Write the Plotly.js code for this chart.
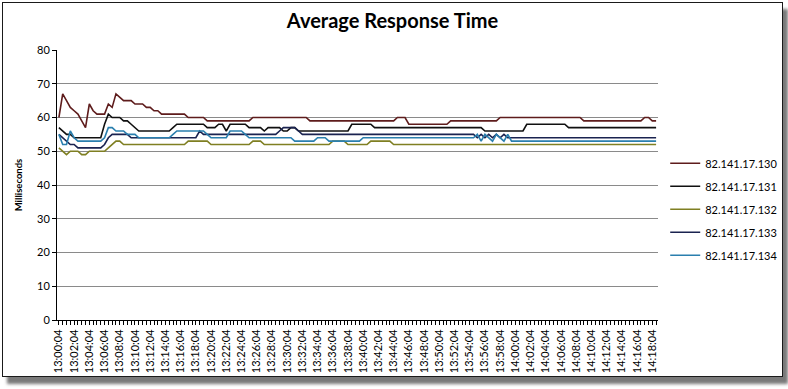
<!DOCTYPE html>
<html>
<head>
<meta charset="utf-8">
<script src="https://cdn.plot.ly/plotly-3.0.1.min.js"></script>
<style>
  html, body { margin: 0; padding: 0; background: #ffffff; width: 788px; height: 389px; overflow: hidden; }
  #frame { position: absolute; left: 2px; top: 2px; width: 779px; height: 373px; border: 1px solid #1a1a1a;
           box-shadow: 5px 7px 3px #7a7a7a; background: #ffffff; }
  #chart { width: 779px; height: 373px; }
</style>
</head>
<body>
<div id="frame"><div id="chart"></div></div>
<script>
// Sample times (every 30 s)
const times = [
 "13:00:04","13:00:34","13:01:04","13:01:34","13:02:04","13:02:34","13:03:04","13:03:34","13:04:04","13:04:34","13:05:04","13:05:34","13:06:04","13:06:34","13:07:04","13:07:34","13:08:04","13:08:34","13:09:04","13:09:34",
 "13:10:04","13:10:34","13:11:04","13:11:34","13:12:04","13:12:34","13:13:04","13:13:34","13:14:04","13:14:34","13:15:04","13:15:34","13:16:04","13:16:34","13:17:04","13:17:34","13:18:04","13:18:34","13:19:04","13:19:34",
 "13:20:04","13:20:34","13:21:04","13:21:34","13:22:04","13:22:34","13:23:04","13:23:34","13:24:04","13:24:34","13:25:04","13:25:34","13:26:04","13:26:34","13:27:04","13:27:34","13:28:04","13:28:34","13:29:04","13:29:34",
 "13:30:04","13:30:34","13:31:04","13:31:34","13:32:04","13:32:34","13:33:04","13:33:34","13:34:04","13:34:34","13:35:04","13:35:34","13:36:04","13:36:34","13:37:04","13:37:34","13:38:04","13:38:34","13:39:04","13:39:34",
 "13:40:04","13:40:34","13:41:04","13:41:34","13:42:04","13:42:34","13:43:04","13:43:34","13:44:04","13:44:34","13:45:04","13:45:34","13:46:04","13:46:34","13:47:04","13:47:34","13:48:04","13:48:34","13:49:04","13:49:34",
 "13:50:04","13:50:34","13:51:04","13:51:34","13:52:04","13:52:34","13:53:04","13:53:34","13:54:04","13:54:34","13:55:04","13:55:34","13:56:04","13:56:34","13:57:04","13:57:34","13:58:04","13:58:34","13:59:04","13:59:34",
 "14:00:04","14:00:34","14:01:04","14:01:34","14:02:04","14:02:34","14:03:04","14:03:34","14:04:04","14:04:34","14:05:04","14:05:34","14:06:04","14:06:34","14:07:04","14:07:34","14:08:04","14:08:34","14:09:04","14:09:34",
 "14:10:04","14:10:34","14:11:04","14:11:34","14:12:04","14:12:34","14:13:04","14:13:34","14:14:04","14:14:34","14:15:04","14:15:34","14:16:04","14:16:34","14:17:04","14:17:34","14:18:04","14:18:34"
];

// Labelled ticks (every 2 minutes)
const tickLabels = [
 "13:00:04","13:02:04","13:04:04","13:06:04","13:08:04","13:10:04","13:12:04","13:14:04","13:16:04","13:18:04",
 "13:20:04","13:22:04","13:24:04","13:26:04","13:28:04","13:30:04","13:32:04","13:34:04","13:36:04","13:38:04",
 "13:40:04","13:42:04","13:44:04","13:46:04","13:48:04","13:50:04","13:52:04","13:54:04","13:56:04","13:58:04",
 "14:00:04","14:02:04","14:04:04","14:06:04","14:08:04","14:10:04","14:12:04","14:14:04","14:16:04","14:18:04"
];

const seriesNames = ["82.141.17.130","82.141.17.131","82.141.17.132","82.141.17.133","82.141.17.134"];

const ms130 = [
 60,67,65,63,62,61,59,57,64,62,61,61,61,64,63,67,66,65,65,65,
 64,64,64,63,63,62,62,61,61,61,61,61,61,61,60,60,60,60,60,59,
 59,59,59,59,59,59,59,59,59,59,59,60,60,60,60,60,60,60,60,60,
 60,60,60,60,60,60,59,59,59,59,59,59,59,59,59,59,59,59,59,59,
 59,59,59,59,59,59,59,59,59,60,60,60,58,58,58,58,58,58,58,58,
 58,58,58,59,59,59,59,59,59,59,59,59,59,59,59,59,60,60,60,60,
 60,60,60,60,60,60,60,60,60,60,60,60,60,60,60,60,60,60,59,59,
 59,59,59,59,59,59,59,59,59,59,59,59,59,59,60,60,59,59
];
const ms131 = [
 57,56,55,55,54,54,54,54,54,54,54,54,58,61,60,60,60,59,59,58,
 57,56,56,56,56,56,56,56,56,56,57,58,58,58,58,58,58,58,58,57,
 57,57,58,58,56,58,58,58,58,58,57,57,57,57,56,57,57,57,57,56,
 56,57,57,56,56,56,56,56,56,56,56,56,56,56,56,56,56,58,58,58,
 58,58,58,57,57,57,57,57,57,57,57,57,57,57,57,57,57,57,57,57,
 57,57,57,57,57,57,57,57,57,57,57,57,56,56,56,56,56,56,56,56,
 56,56,56,58,58,58,58,58,58,58,58,58,58,58,57,57,57,57,57,57,
 57,57,57,57,57,57,57,57,57,57,57,57,57,57,57,57,57,57
];
const ms132 = [
 51,50,49,50,50,50,49,49,50,50,50,50,50,51,52,53,53,52,52,52,
 52,52,52,52,52,52,52,52,52,52,52,52,52,52,53,53,53,53,53,53,
 52,52,52,52,52,52,52,52,52,52,52,53,53,53,52,52,52,52,52,52,
 52,52,52,52,52,52,52,52,52,52,52,52,53,53,53,53,52,52,52,52,
 52,52,53,53,53,53,53,53,52,52,52,52,52,52,52,52,52,52,52,52,
 52,52,52,52,52,52,52,52,52,52,52,52,52,52,52,52,52,52,52,52,
 52,52,52,52,52,52,52,52,52,52,52,52,52,52,52,52,52,52,52,52,
 52,52,52,52,52,52,52,52,52,52,52,52,52,52,52,52,52,52
];
const ms133 = [
 55,54,53,52,52,51,51,51,51,51,51,51,52,54,55,55,55,55,55,54,
 54,54,54,54,54,54,54,54,54,54,54,54,54,54,54,54,54,56,55,55,
 55,55,55,55,55,55,55,55,55,55,55,55,55,55,55,55,55,55,56,57,
 57,57,57,56,55,55,55,55,55,55,55,55,55,55,55,55,55,55,55,55,
 55,55,55,55,55,55,55,55,55,55,55,55,55,55,55,55,55,55,55,55,
 55,55,55,55,55,55,55,55,55,55,54,55,54,55,54,55,54,55,54,54,
 54,54,54,54,54,54,54,54,54,54,54,54,54,54,54,54,54,54,54,54,
 54,54,54,54,54,54,54,54,54,54,54,54,54,54,54,54,54,54
];
const ms134 = [
 55,52,52,56,54,53,53,53,53,53,53,53,54,57,57,56,56,56,55,55,
 55,54,54,54,54,54,54,54,54,54,55,56,56,56,56,56,56,56,56,55,
 54,54,54,54,54,56,56,56,56,55,54,54,54,54,54,54,54,54,54,54,
 54,54,53,53,53,53,53,53,54,54,54,53,53,53,53,53,53,53,53,53,
 54,54,54,54,54,54,54,54,54,54,54,54,54,54,54,54,54,54,54,54,
 54,54,54,54,54,54,54,54,54,54,55,53,55,54,53,55,54,53,55,53,
 53,53,53,53,53,53,53,53,53,53,53,53,53,53,53,53,53,53,53,53,
 53,53,53,53,53,53,53,53,53,53,53,53,53,53,53,53,53,53
];

const seriesValues = [ms130, ms131, ms132, ms133, ms134];
const seriesColors = ["#5e1c1c", "#101010", "#7f7f22", "#1a2350", "#2a7fae"];

const FONT = "Lato, 'Liberation Sans', Arial, sans-serif";

const traces = seriesNames.map((name, i) => ({
  type: "scatter",
  mode: "lines",
  name: name,
  x: times,
  y: seriesValues[i],
  legendgroup: "g" + i,
  line: { color: seriesColors[i], width: 1.6 },
  hoverinfo: "x+y+name"
}));

const layout = {
  width: 779,
  height: 373,
  margin: { l: 54, r: 124, t: 47, b: 56, autoexpand: false },
  paper_bgcolor: "#ffffff",
  plot_bgcolor: "#ffffff",
  font: { family: FONT, size: 11, color: "#000000" },
  title: {
    text: "<b>Average Response Time</b>",
    font: { family: FONT, size: 20, color: "#000000" },
    x: 0.5, xanchor: "center",
    y: 0.953, yanchor: "middle", yref: "container"
  },
  xaxis: {
    type: "category",
    categoryorder: "array",
    categoryarray: times,
    range: [-0.5, times.length - 0.5],
    tickmode: "array",
    tickvals: times,
    ticktext: times.map(t => tickLabels.includes(t) ? t : ""),
    tickangle: -90,
    ticks: "outside",
    ticklen: 4,
    tickwidth: 1,
    tickcolor: "#000000",
    showline: true,
    linecolor: "#000000",
    linewidth: 1,
    showgrid: false,
    zeroline: false,
    tickfont: { family: FONT, size: 11, color: "#000000" },
    fixedrange: true
  },
  yaxis: {
    range: [0, 80],
    tickmode: "linear",
    tick0: 0,
    dtick: 10,
    ticks: "outside",
    ticklen: 4,
    tickcolor: "#000000",
    showline: true,
    linecolor: "#000000",
    linewidth: 1,
    showgrid: true,
    gridcolor: "#8a8a8a",
    gridwidth: 1,
    zeroline: false,
    tickfont: { family: FONT, size: 11, color: "#000000" },
    title: { text: "<b>Milliseconds</b>", font: { family: FONT, size: 9.5, color: "#000000" }, standoff: 12 },
    fixedrange: true
  },
  showlegend: true,
  legend: {
    x: 1.012, xanchor: "left",
    y: 0.41, yanchor: "middle",
    traceorder: "grouped",
    tracegroupgap: 4,
    itemwidth: 30,
    font: { family: FONT, size: 11, color: "#000000" },
    bgcolor: "rgba(255,255,255,0)",
    borderwidth: 0
  }
};

Plotly.newPlot("chart", traces, layout, { displayModeBar: false, staticPlot: true });
</script>
</body>
</html>
